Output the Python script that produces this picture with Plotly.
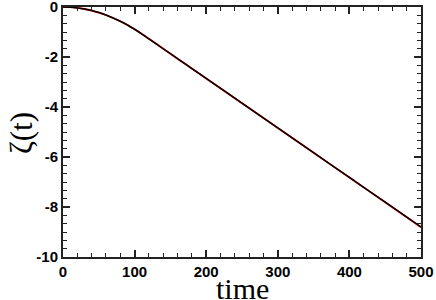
import plotly.graph_objects as go

time = [0, 10, 20, 30, 40, 50, 60, 70, 80, 90, 100, 110, 120, 140, 160, 180, 200,
        250, 300, 350, 400, 450, 500]
zeta_black = [0, -0.009, -0.036, -0.08, -0.142, -0.222, -0.32, -0.44, -0.57, -0.72,
              -0.89, -1.076, -1.274, -1.67, -2.066, -2.462, -2.858, -3.848, -4.838,
              -5.828, -6.818, -7.808, -8.80]
zeta_red = [0, -0.009, -0.036, -0.08, -0.142, -0.222, -0.32, -0.44, -0.57, -0.72,
            -0.89, -1.076, -1.274, -1.67, -2.066, -2.462, -2.858, -3.848, -4.838,
            -5.83, -6.82, -7.81, -8.81]
x_ticks = [0, 100, 200, 300, 400, 500]
y_ticks = [0, -2, -4, -6, -8, -10]

fig = go.Figure()
fig.add_trace(go.Scatter(x=time, y=zeta_red, mode="lines",
                         line=dict(color="red", width=1.8, shape="spline", smoothing=0.8),
                         showlegend=False))
fig.add_trace(go.Scatter(x=time, y=zeta_black, mode="lines",
                         line=dict(color="black", width=1.5, shape="spline", smoothing=0.8),
                         showlegend=False))

tickfont = dict(family="Liberation Sans, Arial", size=15, color="black")
axis_common = dict(showgrid=False, zeroline=False, showline=True, linecolor="#222",
                   linewidth=2, mirror="ticks", ticks="inside", ticklen=7,
                   tickwidth=1.5, tickcolor="#222", tickfont=tickfont,
                   automargin=False, ticklabeloverflow="allow")

fig.update_layout(
    width=436, height=300,
    margin=dict(l=63, r=15, t=7, b=43),
    paper_bgcolor="white", plot_bgcolor="white",
    xaxis=dict(range=[0, 500], tickvals=x_ticks,
               ticktext=["<b>%d</b>" % v for v in x_ticks],
               minor=dict(dtick=20, ticks="inside", ticklen=4, tickwidth=1.2, tickcolor="#222"),
               **axis_common),
    yaxis=dict(range=[-10, 0], tickvals=y_ticks,
               ticktext=["<b>%d</b>" % v for v in y_ticks],
               minor=dict(dtick=1/3, tick0=0, ticks="inside", ticklen=4, tickwidth=1.2, tickcolor="#222"),
               **axis_common),
    annotations=[
        dict(text="time", xref="paper", yref="paper", x=0.5, y=-0.2,
             xanchor="center", yanchor="bottom", showarrow=False,
             font=dict(family="Liberation Serif, Times New Roman", size=30, color="black")),
        dict(text="ζ(t)", xref="paper", yref="paper", x=-0.117, y=0.496,
             xanchor="center", yanchor="middle", showarrow=False, textangle=-90,
             font=dict(family="Liberation Serif, Times New Roman", size=31, color="black")),
    ],
)

fig.write_html("out.html", config={"displayModeBar": False},
               post_script="document.body.style.margin='0';")
